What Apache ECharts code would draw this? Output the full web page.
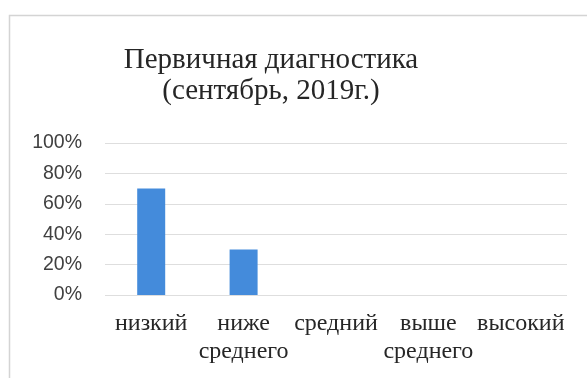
<!DOCTYPE html>
<html>
<head>
<meta charset="utf-8">
<script src="https://cdn.jsdelivr.net/npm/echarts@6/dist/echarts.min.js"></script>
<style>
  html, body { margin: 0; padding: 0; background: #ffffff; }
  #chart { width: 587px; height: 378px; }
</style>
</head>
<body>
<div id="chart"></div>
<script>
// Уровни и доли учащихся (первичная диагностика, сентябрь 2019)
const categories = ['низкий', 'ниже среднего', 'средний', 'выше среднего', 'высокий'];
const shares = [70, 30, 0, 0, 0];
const titleLines = ['Первичная диагностика', '(сентябрь, 2019г.)'];

const chart = echarts.init(document.getElementById('chart'), null, { renderer: 'canvas' });

chart.setOption({
  backgroundColor: '#ffffff',
  animation: false,
  graphic: [{
    type: 'rect',
    shape: { x: 9.5, y: 15.5, width: 620, height: 420 },
    style: { fill: 'none', stroke: '#d4d4d4', lineWidth: 1.5 },
    silent: true,
    z: -1
  }],
  title: {
    text: titleLines.join('\n'),
    left: 266,
    top: 40,
    textAlign: 'center',
    textStyle: {
      fontFamily: '"Liberation Serif", "Times New Roman", serif',
      fontSize: 29,
      fontWeight: 'normal',
      lineHeight: 31,
      color: '#262626'
    }
  },
  grid: { left: 105, right: 20, top: 143, bottom: 83, containLabel: false },
  xAxis: {
    type: 'category',
    data: categories,
    axisLine: { show: false },
    axisTick: { show: false },
    axisLabel: {
      interval: 0,
      margin: 15,
      fontFamily: '"Liberation Serif", "Times New Roman", serif',
      fontSize: 24,
      lineHeight: 28,
      color: '#262626',
      formatter: v => v.replace(' ', '\n')
    }
  },
  yAxis: {
    type: 'value',
    min: 0,
    max: 100,
    interval: 20,
    axisLine: { show: false },
    axisTick: { show: false },
    splitLine: { lineStyle: { color: '#dedede', width: 1 } },
    axisLabel: {
      margin: 23,
      fontFamily: '"Liberation Sans", Arial, sans-serif',
      fontSize: 19.5,
      color: '#404040',
      formatter: v => v + '%'
    }
  },
  series: [{
    type: 'bar',
    data: shares,
    barWidth: 28,
    itemStyle: {
      color: '#448bdb',
      borderWidth: 0
    }
  }]
});
</script>
</body>
</html>
